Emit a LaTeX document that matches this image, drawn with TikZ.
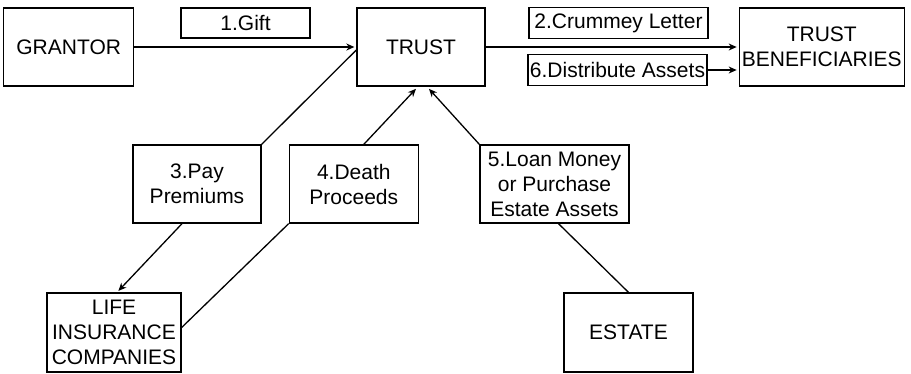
\documentclass[tikz,border=0pt]{standalone}
\usepackage{fontspec}
\setmainfont{Liberation Sans}
\usetikzlibrary{positioning,arrows.meta}

\tikzset{
  box/.style={draw, line width=1.3pt, minimum width=128pt, minimum height=78pt,
    align=center, inner sep=2pt, font=\fontsize{21}{25}\selectfont},
  tag/.style={draw, line width=1.3pt, minimum height=31pt,
    inner sep=2pt, font=\fontsize{21}{25}\selectfont},
  link/.style={line width=1.3pt},
  arr/.style={link, -{Stealth[length=8pt,width=7pt]}, shorten >=2pt},
}

\begin{document}
\begin{tikzpicture}[x=1pt, y=-1pt]
\useasboundingbox (0,0) rectangle (911,373);

% top row
\node[box] (trust) at (421,47) {TRUST};
\node[box, minimum width=130pt, left=222pt of trust] (grantor) {GRANTOR};
\node[box, minimum width=165pt, right=253pt of trust] (benef) {TRUST\\BENEFICIARIES};
\node[tag, minimum width=129pt, minimum height=30pt] (gift) at (245.5,23) {1.Gift};
\node[tag, minimum width=179pt] (crummey) at (618.5,23) {2.Crummey Letter};
\node[tag, minimum width=177pt] (distribute) at (617.5,70) {6.Distribute Assets};

% middle row
\node[box] (pay) at (197,184) {3.Pay\\Premiums};
\node[box, minimum width=129pt, right=27pt of pay] (death) {4.Death\\Proceeds};
\node[box, minimum width=149pt] (loan) at (554.5,184) {5.Loan Money\\or Purchase\\Estate Assets};

% bottom row
\node[box, minimum width=134pt, minimum height=79pt] (life) at (114,332.5) {LIFE\\INSURANCE\\COMPANIES};
\node[box, minimum width=129pt, minimum height=79pt] (estate) at (628.5,332.5) {ESTATE};

\draw[arr] (grantor) -- (trust);
\draw[arr] (trust.east) -- (trust.east -| benef.west);
\draw[arr] (distribute.east) -- (distribute.east -| benef.west);

\draw[link] (pay.north east) -- ([yshift=-3pt]trust.west);
\draw[arr] ([xshift=-15pt]pay.south) -- ([xshift=3pt]life.north);

\draw[link] ([yshift=5pt]life.east) -- (death.south west);
\draw[arr, shorten >=3pt] ([xshift=10pt]death.north) -- ([xshift=-3pt]trust.south);

\draw[link] (estate.north) -- ([xshift=4pt]loan.south);
\draw[arr, shorten >=3pt] (loan.north west) -- ([xshift=6pt]trust.south);
\end{tikzpicture}
\end{document}
